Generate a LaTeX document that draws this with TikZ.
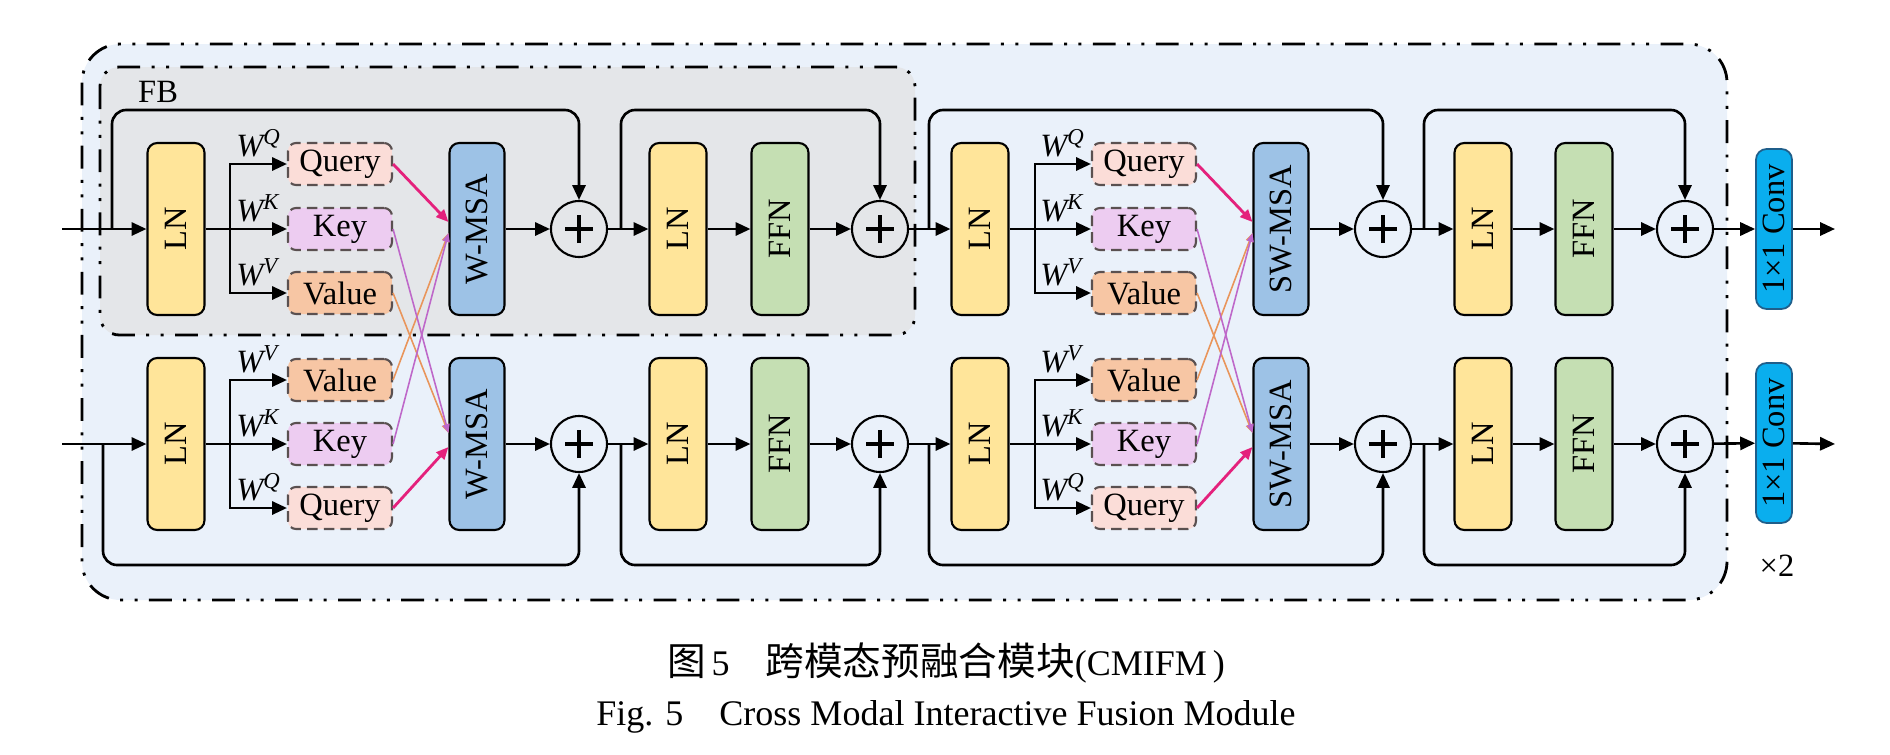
\documentclass[tikz,border=0pt]{standalone}
\usepackage{graphicx}
\usepackage{fontspec}
\setmainfont{Liberation Serif}
\newfontfamily\cjk{Noto Sans CJK SC}
\usetikzlibrary{arrows.meta,calc}
\definecolor{lnyellow}{HTML}{FFE59A}
\definecolor{ffngreen}{HTML}{C5DFB3}
\definecolor{msablue}{HTML}{9DC2E6}
\definecolor{qpink}{HTML}{FBDDD8}
\definecolor{klilac}{HTML}{EDCCF1}
\definecolor{vorange}{HTML}{F7C6A4}
\definecolor{convblue}{HTML}{0AAEEE}
\definecolor{convedge}{HTML}{1F5E8A}
\definecolor{outerbg}{HTML}{EAF1FA}
\definecolor{fbgray}{HTML}{E4E6E9}
\definecolor{qline}{HTML}{E4217C}
\definecolor{kline}{HTML}{BE68C9}
\definecolor{vline}{HTML}{E9955B}
\definecolor{dashgray}{HTML}{5A5050}
\tikzset{
  blk/.style={draw, line width=1.2pt, rounded corners=5.5pt, minimum width=1.14cm, minimum height=3.44cm, inner sep=0pt},
  lnbox/.style={blk, fill=lnyellow},
  ffnbox/.style={blk, fill=ffngreen},
  msabox/.style={blk, fill=msablue, minimum width=1.1cm},
  qkv/.style={draw=dashgray, dash pattern=on 6pt off 3.5pt, line width=1.2pt, rounded corners=4.5pt, minimum width=2.08cm, minimum height=0.84cm, inner sep=0pt},
  addnode/.style={circle, draw, line width=1.2pt, minimum size=1.12cm, inner sep=0pt,
    path picture={\draw[line width=2.3pt] ([xshift=-0.28cm]path picture bounding box.center) -- ([xshift=0.28cm]path picture bounding box.center) ([yshift=-0.28cm]path picture bounding box.center) -- ([yshift=0.28cm]path picture bounding box.center);}},
  convbox/.style={draw=convedge, fill=convblue, line width=1pt, rounded corners=6pt, minimum width=0.72cm, minimum height=3.2cm, inner sep=0pt},
  wlab/.style={anchor=base west, inner sep=0pt},
  conn/.style={line width=1.5pt},
  arr/.style={conn, -{Triangle[length=8.5pt,width=7.5pt]}},
  qarr/.style={qline, line width=1.6pt, -{Triangle[length=7pt,width=6pt]}},
  karr/.style={kline, line width=0.9pt, -{Triangle[length=5pt,width=4pt]}},
  varr/.style={vline, line width=0.9pt, -{Triangle[length=5pt,width=4pt]}},
  dashdot/.style={line width=1.6pt, dash pattern=on 13pt off 6.5pt on 1.7pt off 6.5pt on 1.7pt off 6.5pt},
}
\begin{document}
\begin{tikzpicture}[x=0.02cm, y=-0.02cm, font=\fontsize{18.5}{22}\selectfont]
\useasboundingbox (0,0) rectangle (1890,754);
\draw[dashdot, fill=outerbg, rounded corners=22pt] (82,44) rectangle (1727,600);
\draw[dashdot, fill=fbgray, rounded corners=11pt] (100,67) rectangle (915,335);
\node[anchor=west] (fblab) at (132,92) {FB};

\coordinate (topy) at (0,110);
\coordinate (boty) at (0,565);
\coordinate (int) at (62,229);
\coordinate (inb) at (62,444);
\coordinate (s1t) at (112,229);
\coordinate (s1b) at (103,444);
\coordinate (b1t) at (230,229);
\coordinate (b1b) at (230,444);
\coordinate (s2t) at (621,229);
\coordinate (s2b) at (621,444);
\coordinate (s3t) at (929,229);
\coordinate (s3b) at (929,444);
\coordinate (b3t) at (1035,229);
\coordinate (b3b) at (1035,444);
\coordinate (s4t) at (1424,229);
\coordinate (s4b) at (1424,444);
\coordinate (outt) at (1835,229);
\coordinate (outb) at (1835,444);

\node[lnbox] (ln1t) at (176,229) {\rotatebox{90}{LN}};
\node[qkv, fill=qpink] (q1t) at (340,164) {Query};
\node[qkv, fill=klilac] (k1t) at (340,229) {Key};
\node[qkv, fill=vorange] (v1t) at (340,293) {Value};
\node[msabox] (msa1t) at (477,229) {\rotatebox{90}{W-MSA}};
\node[addnode] (p1t) at (579,229) {};
\node[lnbox] (ln2t) at (678,229) {\rotatebox{90}{LN}};
\node[ffnbox] (ffn2t) at (780,229) {\rotatebox{90}{FFN}};
\node[addnode] (p2t) at (880,229) {};
\node[lnbox] (ln3t) at (980,229) {\rotatebox{90}{LN}};
\node[qkv, fill=qpink] (q3t) at (1144,164) {Query};
\node[qkv, fill=klilac] (k3t) at (1144,229) {Key};
\node[qkv, fill=vorange] (v3t) at (1144,293) {Value};
\node[msabox] (msa3t) at (1281,229) {\rotatebox{90}{SW-MSA}};
\node[addnode] (p3t) at (1383,229) {};
\node[lnbox] (ln4t) at (1483,229) {\rotatebox{90}{LN}};
\node[ffnbox] (ffn4t) at (1584,229) {\rotatebox{90}{FFN}};
\node[addnode] (p4t) at (1685,229) {};
\node[convbox] (convt) at (1774,229) {\rotatebox{90}{1×1 Conv}};

\node[lnbox] (ln1b) at (176,444) {\rotatebox{90}{LN}};
\node[qkv, fill=vorange] (v1b) at (340,380) {Value};
\node[qkv, fill=klilac] (k1b) at (340,444) {Key};
\node[qkv, fill=qpink] (q1b) at (340,508) {Query};
\node[msabox] (msa1b) at (477,444) {\rotatebox{90}{W-MSA}};
\node[addnode] (p1b) at (579,444) {};
\node[lnbox] (ln2b) at (678,444) {\rotatebox{90}{LN}};
\node[ffnbox] (ffn2b) at (780,444) {\rotatebox{90}{FFN}};
\node[addnode] (p2b) at (880,444) {};
\node[lnbox] (ln3b) at (980,444) {\rotatebox{90}{LN}};
\node[qkv, fill=vorange] (v3b) at (1144,380) {Value};
\node[qkv, fill=klilac] (k3b) at (1144,444) {Key};
\node[qkv, fill=qpink] (q3b) at (1144,508) {Query};
\node[msabox] (msa3b) at (1281,444) {\rotatebox{90}{SW-MSA}};
\node[addnode] (p3b) at (1383,444) {};
\node[lnbox] (ln4b) at (1483,444) {\rotatebox{90}{LN}};
\node[ffnbox] (ffn4b) at (1584,444) {\rotatebox{90}{FFN}};
\node[addnode] (p4b) at (1685,444) {};
\node[convbox] (convb) at (1774,443) {\rotatebox{90}{1×1 Conv}};

\node[wlab] (wq1t) at (236,156) {\textit{W\textsuperscript{Q}}};
\node[wlab] (wk1t) at (236,221) {\textit{W\textsuperscript{K}}};
\node[wlab] (wv1t) at (236,285) {\textit{W\textsuperscript{V}}};
\node[wlab] (wv1b) at (236,372) {\textit{W\textsuperscript{V}}};
\node[wlab] (wk1b) at (236,436) {\textit{W\textsuperscript{K}}};
\node[wlab] (wq1b) at (236,500) {\textit{W\textsuperscript{Q}}};
\node[wlab] (wq3t) at (1040,156) {\textit{W\textsuperscript{Q}}};
\node[wlab] (wk3t) at (1040,221) {\textit{W\textsuperscript{K}}};
\node[wlab] (wv3t) at (1040,285) {\textit{W\textsuperscript{V}}};
\node[wlab] (wv3b) at (1040,372) {\textit{W\textsuperscript{V}}};
\node[wlab] (wk3b) at (1040,436) {\textit{W\textsuperscript{K}}};
\node[wlab] (wq3b) at (1040,500) {\textit{W\textsuperscript{Q}}};
\node (times2) at (1777,566) {×2};

\draw[arr] (int) -- (ln1t);
\draw[arr] (ln1t) -- (k1t);
\draw[arr] (b1t) |- (q1t);
\draw[arr] (b1t) |- (v1t);
\draw[arr] (msa1t) -- (p1t);
\draw[arr] (p1t) -- (ln2t);
\draw[arr] (ln2t) -- (ffn2t);
\draw[arr] (ffn2t) -- (p2t);
\draw[arr] (p2t) -- (ln3t);
\draw[arr] (ln3t) -- (k3t);
\draw[arr] (b3t) |- (q3t);
\draw[arr] (b3t) |- (v3t);
\draw[arr] (msa3t) -- (p3t);
\draw[arr] (p3t) -- (ln4t);
\draw[arr] (ln4t) -- (ffn4t);
\draw[arr] (ffn4t) -- (p4t);
\draw[arr] (p4t) -- (convt);
\draw[arr] (convt) -- (outt);
\draw[arr, rounded corners=8pt] (s1t) |- (p1t |- topy) -- (p1t);
\draw[arr, rounded corners=8pt] (s2t) |- (p2t |- topy) -- (p2t);
\draw[arr, rounded corners=8pt] (s3t) |- (p3t |- topy) -- (p3t);
\draw[arr, rounded corners=8pt] (s4t) |- (p4t |- topy) -- (p4t);

\draw[arr] (inb) -- (ln1b);
\draw[arr] (ln1b) -- (k1b);
\draw[arr] (b1b) |- (v1b);
\draw[arr] (b1b) |- (q1b);
\draw[arr] (msa1b) -- (p1b);
\draw[arr] (p1b) -- (ln2b);
\draw[arr] (ln2b) -- (ffn2b);
\draw[arr] (ffn2b) -- (p2b);
\draw[arr] (p2b) -- (ln3b);
\draw[arr] (ln3b) -- (k3b);
\draw[arr] (b3b) |- (v3b);
\draw[arr] (b3b) |- (q3b);
\draw[arr] (msa3b) -- (p3b);
\draw[arr] (p3b) -- (ln4b);
\draw[arr] (ln4b) -- (ffn4b);
\draw[arr] (ffn4b) -- (p4b);
\draw[arr] (p4b) -- (convb);
\draw[arr] (convb) -- (outb);
\draw[arr, rounded corners=8pt] (s1b) |- (p1b |- boty) -- (p1b);
\draw[arr, rounded corners=8pt] (s2b) |- (p2b |- boty) -- (p2b);
\draw[arr, rounded corners=8pt] (s3b) |- (p3b |- boty) -- (p3b);
\draw[arr, rounded corners=8pt] (s4b) |- (p4b |- boty) -- (p4b);

\draw[varr] (v1t.east) -- ($(msa1b.west)+(0,-11)$);
\draw[varr] (v1b.east) -- ($(msa1t.west)+(0,4)$);
\draw[karr] (k1t.east) -- ($(msa1b.west)+(0,-11)$);
\draw[karr] (k1b.east) -- ($(msa1t.west)+(0,4)$);
\draw[qarr] (q1t.east) -- ($(msa1t.west)+(0,-7)$);
\draw[qarr] (q1b.east) -- ($(msa1b.west)+(0,3)$);
\draw[varr] (v3t.east) -- ($(msa3b.west)+(0,-11)$);
\draw[varr] (v3b.east) -- ($(msa3t.west)+(0,4)$);
\draw[karr] (k3t.east) -- ($(msa3b.west)+(0,-11)$);
\draw[karr] (k3b.east) -- ($(msa3t.west)+(0,4)$);
\draw[qarr] (q3t.east) -- ($(msa3t.west)+(0,-7)$);
\draw[qarr] (q3b.east) -- ($(msa3b.west)+(0,3)$);

\node[font=\fontsize{20.5}{24}\selectfont] (capcn) at (946,663) {{\cjk\fontsize{22}{26}\selectfont 图}\,5\quad{\cjk\fontsize{22}{26}\selectfont 跨模态预融合模块}(CMIFM\,)};
\node[font=\fontsize{20.5}{24}\selectfont] (capen) at (946,717) {Fig. 5\quad Cross Modal Interactive Fusion Module};
\end{tikzpicture}
\end{document}
